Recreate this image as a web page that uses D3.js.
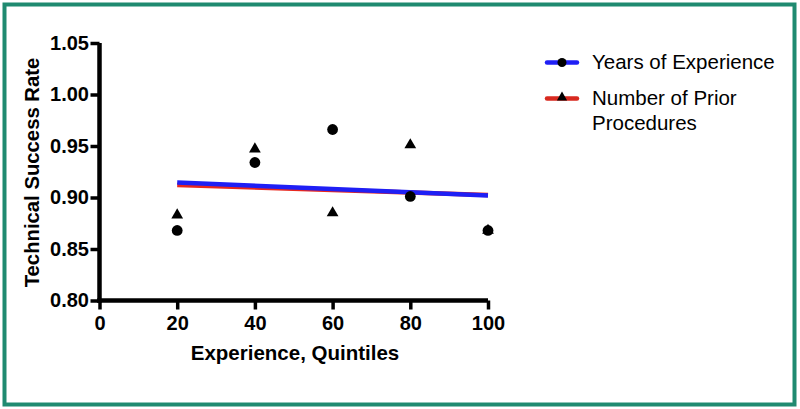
<!DOCTYPE html>
<html><head><meta charset="utf-8">
<script src="https://cdn.jsdelivr.net/npm/d3@7"></script>
<style>body{margin:0;background:#fff}svg{display:block}</style>
</head><body>
<svg id="c" width="800" height="409"></svg>
<script>
const quintiles = [20, 40, 60, 80, 100];
const yearsRate = [0.868, 0.934, 0.966, 0.901, 0.868];
const priorRate = [0.883, 0.947, 0.885, 0.951, 0.868];
const fitX = [20, 100];
const yearsFit = [0.9145, 0.902];
const priorFit = [0.9130, 0.9035];
const xTicks = [0, 20, 40, 60, 80, 100];
const yTicks = [0.80, 0.85, 0.90, 0.95, 1.00, 1.05];
const seriesNames = ["Years of Experience", "Number of Prior", "Procedures"];

const svg = d3.select("#c");
svg.append("rect").attr("x", 4.5).attr("y", 4.5).attr("width", 790).attr("height", 400)
  .attr("fill", "none").attr("stroke", "#1f8a70").attr("stroke-width", 4);

const x = d3.scaleLinear().domain([0, 100]).range([99.5, 488]);
const y = d3.scaleLinear().domain([0.80, 1.05]).range([300.5, 43]);
const font = "'Liberation Sans', Arial, Helvetica, sans-serif";

// fit lines
const line = d3.line().x((d, i) => x(fitX[i])).y(d => y(d));
svg.append("path").datum(priorFit).attr("d", line).attr("fill", "none")
  .attr("stroke", "#e8281e").attr("stroke-width", 4.5).attr("transform", "translate(0,1)");
svg.append("path").datum(yearsFit).attr("d", line).attr("fill", "none")
  .attr("stroke", "#1f1ff5").attr("stroke-width", 4.5);

// points
const tri = d3.symbol().type(d3.symbolTriangle).size(60);
svg.selectAll(".tri").data(priorRate).join("path").attr("class", "tri")
  .attr("d", tri).attr("transform", (d, i) => `translate(${x(quintiles[i])},${y(d)})`).attr("fill", "#000");
svg.selectAll(".dot").data(yearsRate).join("circle").attr("class", "dot")
  .attr("cx", (d, i) => x(quintiles[i])).attr("cy", d => y(d)).attr("r", 5.4).attr("fill", "#000");

// axes
const xAxis = svg.append("g").attr("transform", `translate(0,${y(0.80)})`)
  .call(d3.axisBottom(x).tickValues(xTicks).tickSize(9).tickSizeOuter(0).tickPadding(6));
const yAxis = svg.append("g").attr("transform", `translate(${x(0)},0)`)
  .call(d3.axisLeft(y).tickValues(yTicks).tickFormat(d3.format(".2f")).tickSize(9).tickSizeOuter(0).tickPadding(1.5));
[xAxis, yAxis].forEach(g => {
  g.attr("font-size", 20).attr("font-family", font);
  g.select(".domain").style("stroke", "#000").style("stroke-width", "4.5px");
  g.selectAll(".tick line").style("stroke", "#000").style("stroke-width", "3.5px");
  g.selectAll("text").attr("font-family", font).attr("font-weight", "bold")
    .attr("font-size", 20).attr("fill", "#000");
});
yAxis.select(".domain").attr("d", `M0,${y(0.80) + 2.25}V${y(1.05)}`);
xAxis.select(".domain").attr("d", `M${x(0) - 2.25},0H${x(100)}`);

svg.append("text").attr("x", 295).attr("y", 360).attr("text-anchor", "middle")
  .attr("font-family", font).attr("font-weight", "bold").attr("font-size", 20.5)
  .text("Experience, Quintiles");
svg.append("text").attr("transform", "translate(39,172.5) rotate(-90)").attr("text-anchor", "middle")
  .attr("font-family", font).attr("font-weight", "bold").attr("font-size", 20.3)
  .text("Technical Success Rate");

// legend
const lg = svg.append("g");
lg.append("line").attr("x1", 547).attr("x2", 577).attr("y1", 62.5).attr("y2", 62.5)
  .attr("stroke", "#1f1ff5").attr("stroke-width", 4.5).attr("stroke-linecap", "round");
lg.append("circle").attr("cx", 562).attr("cy", 62.5).attr("r", 4.5).attr("fill", "#000");
lg.append("line").attr("x1", 547).attr("x2", 577).attr("y1", 98.5).attr("y2", 98.5)
  .attr("stroke", "#d8291f").attr("stroke-width", 4.5).attr("stroke-linecap", "round");
lg.append("path").attr("d", d3.symbol().type(d3.symbolTriangle).size(45))
  .attr("transform", "translate(562,97.5)").attr("fill", "#000");
[[seriesNames[0], 68.5], [seriesNames[1], 105], [seriesNames[2], 130]].forEach(([t, yy]) => {
  lg.append("text").attr("x", 592).attr("y", yy).attr("font-family", font)
    .attr("font-size", 20.5).attr("fill", "#000").text(t);
});
</script>
</body></html>
